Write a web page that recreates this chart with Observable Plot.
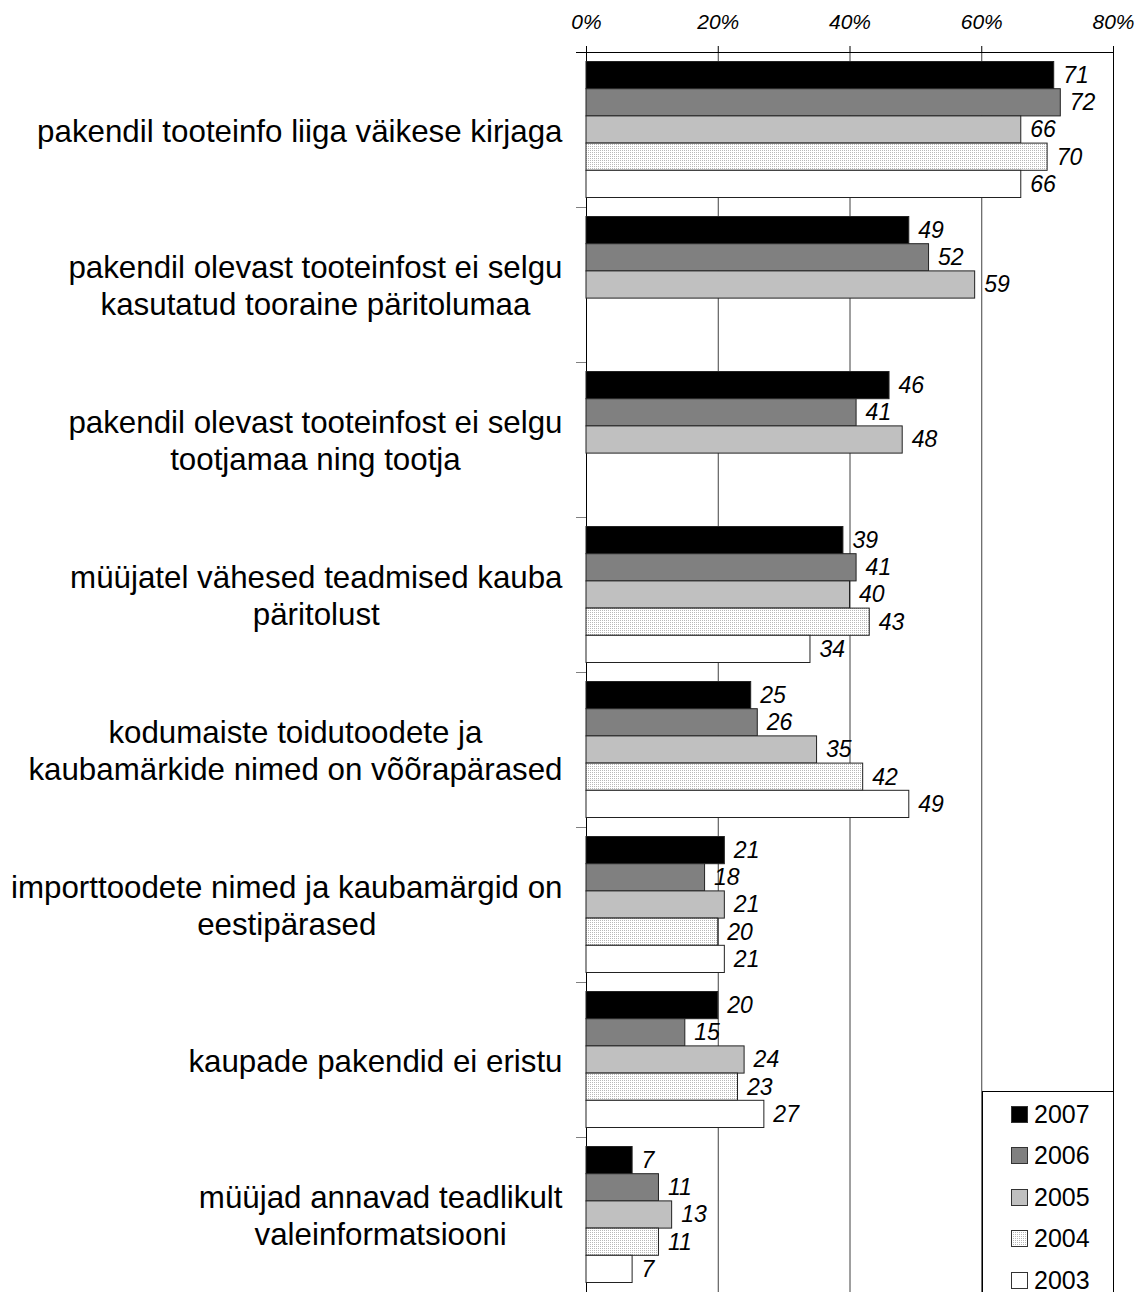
<!DOCTYPE html>
<html>
<head>
<meta charset="utf-8">
<script src="https://cdn.jsdelivr.net/npm/d3@7"></script>
<script src="https://cdn.jsdelivr.net/npm/@observablehq/plot@0.6"></script>
<style>
  html, body { margin: 0; padding: 0; background: #fff; overflow: hidden; }
  #wrap { position: relative; width: 1140px; height: 1292px; font-family: "Liberation Sans", Arial, sans-serif; }
  #legend { position: absolute; left: 982px; top: 1091px; width: 130px; height: 220px; border: 1px solid #000; background: #fff; }
  .item { position: absolute; left: 0; height: 30px; display: flex; align-items: center; font-size: 25px; color: #000; }
  .item svg { margin-left: 28px; margin-right: 6px; }
</style>
</head>
<body>
<div id="wrap"><div id="chart"></div><div id="legend"></div></div>
<script>
// ---- data ----
const categories = [
  "pakendil tooteinfo liiga väikese kirjaga",
  "pakendil olevast tooteinfost ei selgu\nkasutatud tooraine päritolumaa",
  "pakendil olevast tooteinfost ei selgu\ntootjamaa ning tootja",
  "müüjatel vähesed teadmised kauba\npäritolust",
  "kodumaiste toidutoodete ja\nkaubamärkide nimed on võõrapärased",
  "importtoodete nimed ja kaubamärgid on\neestipärased",
  "kaupade pakendid ei eristu",
  "müüjad annavad teadlikult\nvaleinformatsiooni"
];
const years = ["2007", "2006", "2005", "2004", "2003"];
const v2007 = [71, 49, 46, 39, 25, 21, 20, 7];
const v2006 = [72, 52, 41, 41, 26, 18, 15, 11];
const v2005 = [66, 59, 48, 40, 35, 21, 24, 13];
const v2004 = [70, null, null, 43, 42, 20, 23, 11];
const v2003 = [66, null, null, 34, 49, 21, 27, 7];
const xTicks = [0, 20, 40, 60, 80];
const fills = ["#000000", "#808080", "#c0c0c0", "url(#dots2004)", "#ffffff"];

const series = [v2007, v2006, v2005, v2004, v2003];
const rows = [];
years.forEach((yr, i) => categories.forEach((c, j) => {
  const v = series[i][j];
  if (v != null) rows.push({cat: c, year: yr, value: v});
}));

// ---- layout ----
const W = 1140, H = 1292, mL = 586, mR = 27, mT = 52, mB = 0;
const band = (H - mT - mB) / categories.length;
const barH = 27.2;
const pad = (band - barH * years.length) / 2;
const k = (W - mL - mR) / 80; // px per percent
const font = '"Liberation Sans", Arial, sans-serif';
const labelSize = 31.3, labelGap = 24;

// measure label widths to center multi-line labels in a right-aligned block
const ctx = document.createElement("canvas").getContext("2d");
ctx.font = `${labelSize}px ${font}`;
const labelW = new Map(categories.map(c => [c, d3.max(c.split("\n"), s => ctx.measureText(s).width)]));

const marks = [
  Plot.ruleX([20, 40, 60], {stroke: "#404040", strokeOpacity: 1}),
  Plot.ruleX([0], {stroke: "#000"}),
  Plot.ruleX([80], {stroke: "#000"}),
  Plot.ruleY([categories[0]], {x1: -10 / k, x2: 80, dy: -band / 2, stroke: "#000"}),
  Plot.ruleY(categories.slice(1), {x1: -10 / k, x2: 0, dy: -band / 2, stroke: "#808080"}),
  Plot.axisX(xTicks, {anchor: "top", tickFormat: () => "", tickSize: 7, label: null, stroke: "#000"}),
  Plot.text(xTicks, {x: d => d, text: d => d + "%", frameAnchor: "top", dy: -30,
    lineAnchor: "middle", textAnchor: "middle", fontSize: 21, fontStyle: "italic", fill: "#000"})
];
years.forEach((yr, i) => {
  const data = rows.filter(d => d.year === yr);
  marks.push(Plot.barX(data, {
    y: "cat", x: "value", fill: fills[i], stroke: "#222", strokeWidth: 1,
    insetTop: pad + i * barH, insetBottom: band - pad - (i + 1) * barH
  }));
  marks.push(Plot.text(data, {
    y: "cat", x: "value", text: d => String(d.value), dx: 9,
    dy: -band / 2 + pad + (i + 0.5) * barH, textAnchor: "start",
    fontSize: 23, fontStyle: "italic", fill: "#000"
  }));
});
marks.push(Plot.text(categories, {
  y: d => d, x: d => -(labelGap + labelW.get(d) / 2) / k, text: d => d,
  textAnchor: "middle", lineAnchor: "middle", lineHeight: 1.17, fontSize: labelSize, fill: "#000"
}));

const svg = Plot.plot({
  width: W, height: H, marginLeft: mL, marginRight: mR, marginTop: mT, marginBottom: mB,
  x: {domain: [0, 80], axis: null},
  y: {domain: categories, padding: 0, axis: null},
  style: {fontFamily: font, background: "#fff", overflow: "visible"},
  marks
});

const defs = d3.select(svg).insert("defs", ":first-child");
const pat = defs.append("pattern").attr("id", "dots2004").attr("patternUnits", "userSpaceOnUse")
  .attr("width", 2).attr("height", 2);
pat.append("rect").attr("width", 2).attr("height", 2).attr("fill", "#ffffff");
pat.append("rect").attr("width", 1).attr("height", 1).attr("fill", "#b8b8b8");

document.getElementById("chart").appendChild(svg);

// legend
const legend = d3.select("#legend");
years.forEach((yr, i) => {
  const it = legend.append("div").attr("class", "item").style("top", (7 + i * 41.5) + "px");
  const s = it.append("svg").attr("width", 17).attr("height", 17);
  s.append("rect").attr("x", 0.5).attr("y", 0.5).attr("width", 16).attr("height", 16)
    .attr("fill", fills[i]).attr("stroke", "#333");
  it.append("span").text(yr);
});
</script>
</body>
</html>
